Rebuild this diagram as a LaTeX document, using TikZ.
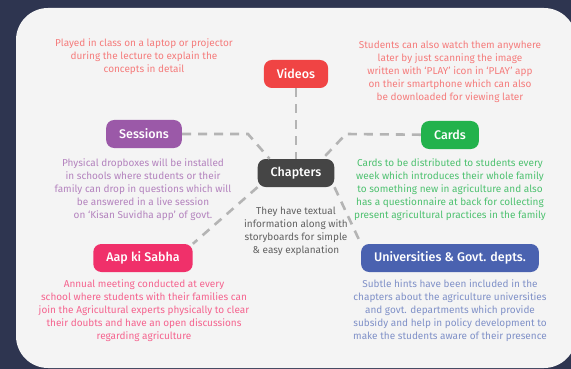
\documentclass[tikz,border=0pt]{standalone}
\usepackage{fontspec}
\setmainfont{Fira Sans}
\newfontfamily\boxfont{Fira Sans Medium}
\definecolor{bgdark}{HTML}{2E3550}
\definecolor{panel}{HTML}{F4F4F4}
\definecolor{linkgrey}{HTML}{B4B4B4}
\definecolor{vidred}{HTML}{F04444}
\definecolor{sespurple}{HTML}{9B59A8}
\definecolor{cardgreen}{HTML}{22B24C}
\definecolor{chapgrey}{HTML}{454545}
\definecolor{sabhapink}{HTML}{F0306A}
\definecolor{univblue}{HTML}{4A62B0}
\tikzset{
  box/.style={rounded corners=8pt, text=white, minimum height=28pt,
    inner xsep=13pt, font=\boxfont\fontsize{12.5}{14}\selectfont},
  desc/.style={align=center, font=\fontsize{10}{13}\selectfont},
  link/.style={draw=linkgrey, line width=2.6pt, dash pattern=on 9pt off 7pt}
}
\begin{document}
\begin{tikzpicture}[x=1pt,y=-1pt]
% background and panel
\fill[bgdark] (0,0) rectangle (571,369);
\useasboundingbox (0,0) rectangle (571,369);
\fill[panel, rounded corners=32pt] (16,8) rectangle (576,368);

% boxes
\node[box, fill=chapgrey] at (296,173) (chap) {Chapters};
\node[box, fill=vidred] at (296,74) (vid) {Videos};
\node[box, fill=sespurple] at (144,134) (ses) {Sessions};
\node[box, fill=cardgreen] at (450,135) (card) {Cards};
\node[box, fill=sabhapink] at (143,258) (sabha) {Aap ki Sabha};
\node[box, fill=univblue] at (450,258) (univ) {Universities \& Govt. depts.};

% bends of the dashed links
\coordinate (sesbend) at (248,134);
\coordinate (cardbend) at (346,134);

% links
\draw[link] (vid) -- (chap);
\draw[link] (ses) -- (sesbend) -- ([xshift=12pt]chap.north west);
\draw[link] (card) -- (cardbend) -- ([xshift=-12pt]chap.north east);
\draw[link] (chap.south west) -- (sabha.north east);
\draw[link] (chap.south east) -- (univ.north west);

% descriptions
\node[desc, text=vidred!70] at (144,57) (viddl) {Played in class on a laptop or projector\\during the lecture to explain the\\concepts in detail};
\node[desc, text=vidred!70] at (450,72) (viddr) {Students can also watch them anywhere\\later by just scanning the image\\written with `PLAY' icon in `PLAY' app\\on their smartphone which can also\\be downloaded for viewing later};
\node[desc, text=sespurple!75] at (143,190) (sesd) {Physical dropboxes will be installed\\in schools where students or their\\family can drop in questions which will\\be answered in a live session\\on `Kisan Suvidha app' of govt.};
\node[desc, text=cardgreen!80] at (450,190) (cardd) {Cards to be distributed to students every\\week which introduces their whole family\\to something new in agriculture and also\\has a questionnaire at back for collecting\\present agricultural practices in the family};
\node[desc, text=chapgrey!85] at (296,231) (chapd) {They have textual\\information along with\\storyboards for simple\\\& easy explanation};
\node[desc, text=sabhapink!75] at (144,311) (sabhad) {Annual meeting conducted at every\\school where students with their families can\\join the Agricultural experts physically to clear\\their doubts and have an open discussions\\regarding agriculture};
\node[desc, text=univblue!70] at (450,311) (univd) {Subtle hints have been included in the\\chapters about the agriculture universities\\and govt. departments which provide\\subsidy and help in policy development to\\make the students aware of their presence};
\end{tikzpicture}
\end{document}
